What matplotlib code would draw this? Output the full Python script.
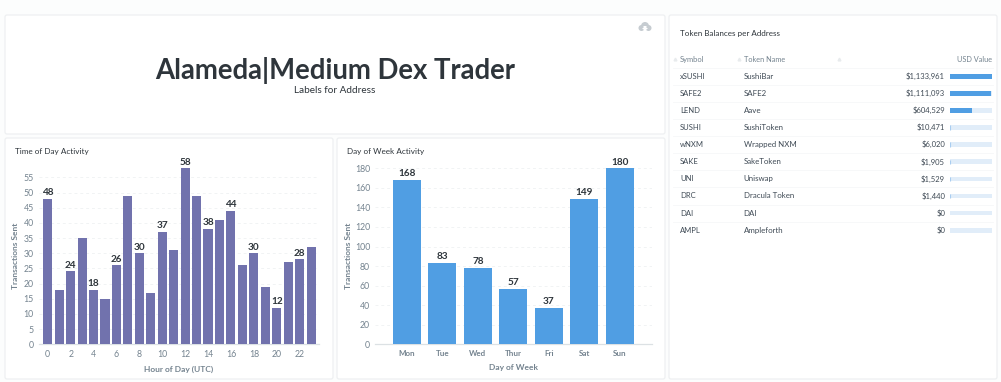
# -*- coding: utf-8 -*-
import matplotlib
matplotlib.use('Agg')
import matplotlib.pyplot as plt
from matplotlib.patches import FancyBboxPatch, Circle, Polygon

plt.rcParams['font.family'] = ['Lato', 'DejaVu Sans']

W, H = 1001, 382

hours = list(range(24))
hour_counts = [48, 18, 24, 35, 18, 15, 26, 49, 30, 17, 37, 31,
               58, 49, 38, 41, 44, 26, 30, 19, 12, 27, 28, 32]
hour_labelled = [0, 2, 4, 6, 8, 10, 12, 14, 16, 18, 20, 22]

days = ['Mon', 'Tue', 'Wed', 'Thur', 'Fri', 'Sat', 'Sun']
day_counts = [168, 83, 78, 57, 37, 149, 180]

symbols = ['xSUSHI', 'SAFE2', 'LEND', 'SUSHI', 'wNXM', 'SAKE', 'UNI', 'DRC', 'DAI', 'AMPL']
token_names = ['SushiBar', 'SAFE2', 'Aave', 'SushiToken', 'Wrapped NXM', 'SakeToken',
               'Uniswap', 'Dracula Token', 'DAI', 'Ampleforth']
usd_values = [1133961, 1111093, 604529, 10471, 6020, 1905, 1529, 1440, 0, 0]

GREY = '#74838f'
DARK = '#2e353b'
TEXT = '#3f4a55'
GRID = '#f1f3f4'
AXIS = '#dce1e4'
PURPLE = '#7172ad'
BLUE = '#509ee3'


def px_axes(fig, left, top, right, bottom):
    """axes placed by pixel edges, y measured from the top"""
    return fig.add_axes([left / W, 1 - bottom / H, (right - left) / W, (bottom - top) / H])


def card(bg, left, top, right, bottom):
    bg.add_patch(FancyBboxPatch((left, top), right - left, bottom - top,
                                boxstyle='round,pad=0,rounding_size=2',
                                fc='white', ec='#eef0f2', lw=0.9))


def bar_panel(ax, x, y, color, bar_w, xlim, ymax, yticks, xticks, xticklabels,
              labelled, xlabel, xfs, xweight):
    ax.set_facecolor('none')
    ax.bar(x, y, width=bar_w, color=color, zorder=3)
    ax.set_xlim(*xlim)
    ax.set_ylim(0, ymax)
    ax.set_yticks(yticks)
    ax.set_xticks(xticks)
    ax.set_xticklabels(xticklabels)
    ax.tick_params(axis='y', length=0, pad=3.5, labelsize=6.3, labelcolor=GREY)
    ax.tick_params(axis='x', length=0, pad=4, labelsize=xfs, labelcolor=GREY)
    for t in ax.get_xticklabels():
        t.set_fontweight(xweight)
    ax.grid(axis='y', color=GRID, lw=0.7, ls=(0, (3, 3)), zorder=0)
    ax.set_axisbelow(True)
    for s in ['top', 'left', 'right']:
        ax.spines[s].set_visible(False)
    ax.spines['bottom'].set_color(AXIS)
    ax.spines['bottom'].set_linewidth(0.9)
    for i in labelled:
        ax.annotate(str(y[i]), (x[i], y[i]), xytext=(0, 1.2), textcoords='offset points',
                    ha='center', va='bottom', fontsize=7.2, fontweight='bold',
                    color=DARK, zorder=5, annotation_clip=False)
    ax.set_xlabel(xlabel, fontsize=6, fontweight='bold', color=GREY, labelpad=5)


fig = plt.figure(figsize=(W / 100, H / 100), dpi=100, facecolor='#fcfdfd')

bg = fig.add_axes([0, 0, 1, 1])
bg.set_xlim(0, W)
bg.set_ylim(H, 0)
bg.axis('off')

card(bg, 5, 15, 665, 134)
card(bg, 5, 138, 333, 379)
card(bg, 337, 138, 665, 379)
card(bg, 669, 15, 997, 379)

# cloud icon
for cx, cy, r in [(641.5, 28, 3), (645, 26, 4), (648.5, 28, 3)]:
    bg.add_patch(Circle((cx, cy), r, fc='#c6ccd1', ec='none'))
bg.add_patch(Polygon([(643.5, 26), (646.5, 26), (646.5, 28), (648, 28), (645, 31), (642, 28), (643.5, 28)],
                     fc='white', ec='none'))

bg.text(335, 70.5, 'Alameda|Medium Dex Trader', ha='center', va='center',
        fontsize=19.8, fontweight='bold', color=DARK)
bg.text(335, 90.5, 'Labels for Address', ha='center', va='center', fontsize=7.2, color=DARK)

bg.text(15, 151.5, 'Time of Day Activity', va='center', fontsize=5.9, color=DARK)
bg.text(347, 151.5, 'Day of Week Activity', va='center', fontsize=5.9, color=DARK)
bg.text(680, 33.5, 'Token Balances per Address', va='center', fontsize=5.8, color=DARK)

bg.text(16, 256, 'Transactions Sent', rotation=90, ha='center', va='center',
        fontsize=6, fontweight='bold', color=GREY)
bg.text(348.5, 256, 'Transactions Sent', rotation=90, ha='center', va='center',
        fontsize=6, fontweight='bold', color=GREY)

ax1 = px_axes(fig, 38.7, 168.3, 319.3, 344.3)
bar_panel(ax1, hours, hour_counts, PURPLE, 0.79, (-0.79, 23.72), 58,
          list(range(0, 56, 5)), hour_labelled, [str(h) for h in hour_labelled],
          hour_labelled, 'Hour of Day (UTC)', 6.3, 'normal')

ax2 = px_axes(fig, 375, 168.3, 651.7, 344.3)
bar_panel(ax2, list(range(7)), day_counts, BLUE, 0.79, (-0.9, 6.9), 180,
          list(range(0, 181, 20)), list(range(7)), days,
          list(range(7)), 'Day of Week', 5.8, 'bold')

# table
row_y = [76.3 + 17.1 * i for i in range(len(symbols))]
bg.text(680, 59.7, 'Symbol', va='center', fontsize=5.4, color=GREY)
bg.text(743.5, 59.7, 'Token Name', va='center', fontsize=5.3, color=GREY)
bg.text(991.7, 59.7, 'USD Value', va='center', ha='right', fontsize=5.3, color=GREY)
bg.plot([674.5, 738.5, 838.5], [58.5, 58.5, 58.5], ls='none', marker='^', ms=2, color='#e8ebed')

for y in row_y:
    bg.plot([673, 993], [y - 8.55, y - 8.55], color='#f6f7f8', lw=0.6)
for y, sym, name, val in zip(row_y, symbols, token_names, usd_values):
    bg.text(680, y, sym, va='center', fontsize=5.5, color=TEXT)
    bg.text(743.5, y, name, va='center', fontsize=5.7, color=TEXT)
    bg.text(945, y, f'${val:,}', va='center', ha='right', fontsize=5.5, color=TEXT)

tab = px_axes(fig, 950, row_y[0] - 8.55, 991.7, row_y[-1] + 8.55)
tab.set_facecolor('none')
tab.axis('off')
tab.set_xlim(0, max(usd_values))
tab.set_ylim(len(symbols) - 0.5, -0.5)
tab.barh(range(len(symbols)), [max(usd_values)] * len(symbols), height=0.27, color='#e1edf9', zorder=1)
tab.barh(range(len(symbols)), usd_values, height=0.27, color=BLUE, zorder=2)
# small values still show a sliver in the reference
tab.vlines([v for v in usd_values[3:8]], [i - 0.13 for i in range(3, 8)], [i + 0.13 for i in range(3, 8)],
           color='#a9cdf0', lw=0.8, zorder=3)

fig.savefig('out.png', dpi=100, facecolor=fig.get_facecolor())
plt.close(fig)
